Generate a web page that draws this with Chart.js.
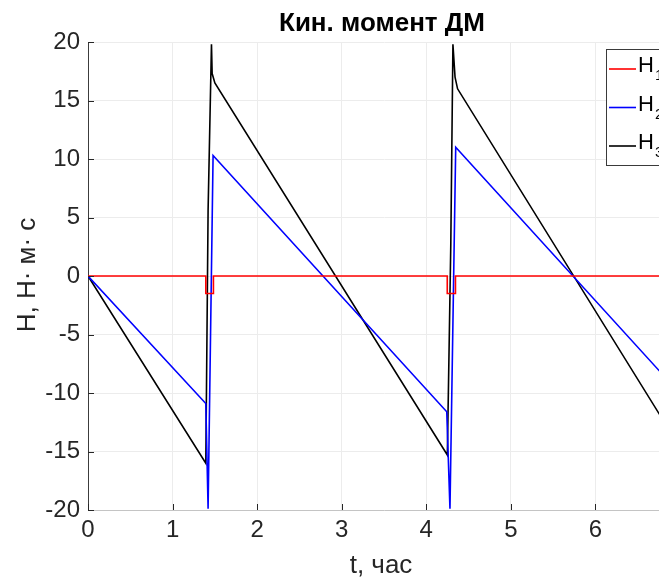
<!DOCTYPE html>
<html lang="ru">
<head>
 <meta charset="UTF-8">
 <title>Кин. момент ДМ</title>
 <script src="https://cdn.jsdelivr.net/npm/chart.js"></script>
 <style>
 html, body {
 margin: 0;
 padding: 0;
 background: white;
 }
 .wrap {
 width: 659px;
 height: 580px;
 overflow: hidden;
 position: relative;
 }
 canvas {
 position: absolute;
 left: 0;
 top: 0;
 }
 </style>
</head>
<body>
 <div class="wrap">
 <canvas id="hChart" width="720" height="580"></canvas>
 </div>
 <script>
 // time, hours
 let t1 = [0, 1.393, 1.393, 1.483, 1.483, 4.248, 4.248, 4.345, 4.345, 7];
 let h1 = [0, 0, -1.5, -1.5, 0, 0, -1.5, -1.5, 0, 0];

 let t2 = [0, 1.393, 1.42, 1.479, 4.242, 4.28, 4.348, 7];
 let h2 = [0, -10.9, -19.9, 10.3, -11.6, -19.9, 11.0, -10.05];

 let t3 = [0, 1.393, 1.42, 1.46, 1.468, 1.50, 4.249, 4.29, 4.315, 4.34, 4.37, 7];
 let h3 = [0, -16.0, 5.6, 19.8, 17.3, 16.5, -15.3, 2.8, 19.8, 17.0, 16.0, -14.65];

 let xTicks = [0, 1, 2, 3, 4, 5, 6, 7];
 let yTicks = [-20, -15, -10, -5, 0, 5, 10, 15, 20];
 let legendLabels = ["H", "H", "H"];
 let legendSubs = ["1", "2", "3"];
 let lineColors = ["#ff0000", "#0000ff", "#000000"];

 const FONT = "'Liberation Sans', Arial, sans-serif";
 const TXT = "#262626";

 function pts(ts, vs) {
   return ts.map((t, i) => ({ x: t, y: vs[i] }));
 }

 // inward tick marks, titles and legend drawn like the original figure
 const extras = {
   id: "extras",
   afterDraw(chart) {
     const ctx = chart.ctx;
     const a = chart.chartArea;
     const xs = chart.scales.x, ys = chart.scales.y;
     ctx.save();
     ctx.strokeStyle = TXT;
     ctx.lineWidth = 1;
     xTicks.forEach(v => {
       let px = Math.round(xs.getPixelForValue(v)) + 0.5;
       ctx.beginPath();
       ctx.moveTo(px, a.bottom);
       ctx.lineTo(px, a.bottom - 6);
       ctx.stroke();
     });
     yTicks.forEach(v => {
       let py = Math.round(ys.getPixelForValue(v)) + 0.5;
       ctx.beginPath();
       ctx.moveTo(a.left, py);
       ctx.lineTo(a.left + 6, py);
       ctx.stroke();
     });

     // title
     ctx.fillStyle = "#000";
     ctx.font = "bold 26px " + FONT;
     ctx.textAlign = "center";
     ctx.textBaseline = "middle";
     ctx.fillText("Кин. момент ДМ", 382, 24);

     // axis labels
     ctx.fillStyle = TXT;
     ctx.font = "26px " + FONT;
     ctx.fillText("t, час", 381, 566);
     ctx.save();
     ctx.translate(28, 275);
     ctx.rotate(-Math.PI / 2);
     ctx.fillText("Н, Н· м· с", 0, 0);
     ctx.restore();

     // legend box
     ctx.fillStyle = "#fff";
     ctx.fillRect(606.5, 49.5, 100, 116);
     ctx.strokeStyle = "#3a3a3a";
     ctx.strokeRect(606.5, 49.5, 100, 116);
     let rows = [69, 107.5, 146];
     rows.forEach((y, i) => {
       ctx.strokeStyle = lineColors[i];
       ctx.lineWidth = 1.6;
       ctx.beginPath();
       ctx.moveTo(609, y);
       ctx.lineTo(636, y);
       ctx.stroke();
       ctx.fillStyle = "#000";
       ctx.textAlign = "left";
       ctx.textBaseline = "middle";
       ctx.font = "22px " + FONT;
       ctx.fillText(legendLabels[i], 638, y - 3);
       ctx.font = "15px " + FONT;
       ctx.fillText(legendSubs[i], 655, y + 7);
     });
     ctx.restore();
   }
 };

 new Chart(document.getElementById("hChart"), {
   type: "scatter",
   data: {
     datasets: [
       { label: "H1", data: pts(t1, h1) },
       { label: "H2", data: pts(t2, h2) },
       { label: "H3", data: pts(t3, h3) }
     ].map((d, i) => Object.assign(d, {
       showLine: true,
       borderColor: lineColors[i],
       backgroundColor: lineColors[i],
       borderWidth: 1.6,
       pointRadius: 0,
       tension: 0
     }))
   },
   options: {
     responsive: false,
     animation: false,
     events: [],
     layout: { padding: { top: 42, right: 40, left: 0, bottom: 0 } },
     plugins: {
       legend: { display: false },
       tooltip: { enabled: false },
       title: { display: false }
     },
     scales: {
       x: {
         type: "linear",
         min: 0,
         max: 7,
         afterFit: s => { s.height = 70; },
         afterBuildTicks: s => { s.ticks = xTicks.map(v => ({ value: v })); },
         ticks: { color: TXT, font: { family: FONT, size: 24 }, padding: 6 },
         grid: { color: "#ececec", drawTicks: false },
         border: { color: "#c4c4c4" }
       },
       y: {
         min: -20,
         max: 20,
         afterFit: s => { s.width = 88; },
         afterBuildTicks: s => { s.ticks = yTicks.map(v => ({ value: v })); },
         ticks: { color: TXT, font: { family: FONT, size: 24 }, padding: 8 },
         grid: { color: "#ececec", drawTicks: false },
         border: { color: "#3c3c3c" }
       }
     }
   },
   plugins: [extras]
 });
 </script>
</body>
</html>
